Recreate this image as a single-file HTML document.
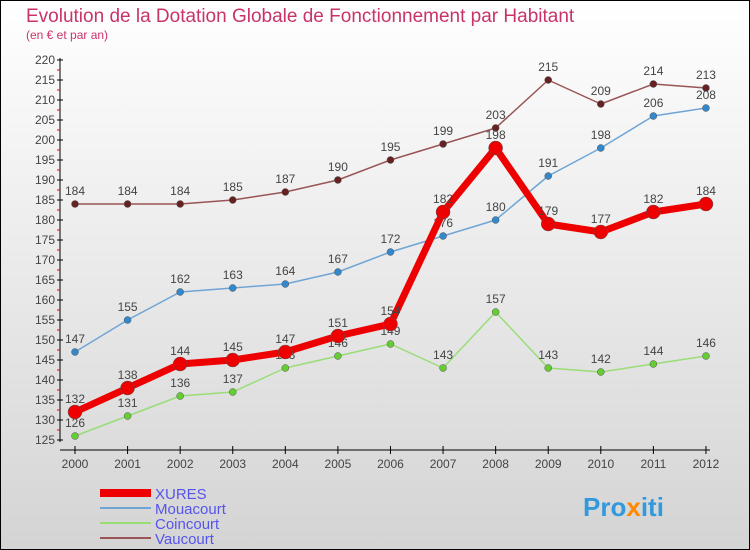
<!DOCTYPE html>
<html><head><meta charset="utf-8"><style>
body{margin:0;width:750px;height:550px;overflow:hidden}
svg{display:block;font-family:"Liberation Sans",sans-serif}
</style></head><body>
<svg width="750" height="550">
<defs><linearGradient id="bg" x1="0" y1="0" x2="0" y2="1"><stop offset="0" stop-color="#ffffff"/><stop offset="1" stop-color="#d4d4d4"/></linearGradient></defs>
<rect x="0.5" y="0.5" width="749" height="549" fill="url(#bg)" stroke="#000"/>
<text x="26" y="22" font-size="19" fill="#c8336a">Evolution de la Dotation Globale de Fonctionnement par Habitant</text>
<text x="26" y="39" font-size="12" fill="#c8336a">(en € et par an)</text>
<g id="axes"></g><g id="series"></g><g id="legend"></g>
<text x="583" y="516" font-size="26" font-weight="bold" fill="#3399dd">Pro<tspan fill="#ff8800">x</tspan>iti</text>
</svg>
<script>
const years=["2000","2001","2002","2003","2004","2005","2006","2007","2008","2009","2010","2011","2012"];
const yTicks=[125,130,135,140,145,150,155,160,165,170,175,180,185,190,195,200,205,210,215,220];
const xures=[132,138,144,145,147,151,154,182,198,179,177,182,184];
const mouacourt=[147,155,162,163,164,167,172,176,180,191,198,206,208];
const coincourt=[126,131,136,137,143,146,149,143,157,143,142,144,146];
const vaucourt=[184,184,184,185,187,190,195,199,203,215,209,214,213];
const NS="http://www.w3.org/2000/svg";
const x=i=>75+i*52.58, y=v=>440-(v-125)*4;
function mk(p,t,a){const e=document.createElementNS(NS,t);for(const k in a)e.setAttribute(k,a[k]);p.appendChild(e);return e;}
const ax=document.getElementById('axes');
let l=mk(ax,'line',{x1:60,y1:58,x2:60,y2:442,stroke:'#000'});


l=mk(ax,'line',{x1:60,y1:450,x2:710,y2:450,stroke:'#000'});


yTicks.forEach(v=>{mk(ax,'line',{x1:57,y1:y(v),x2:63,y2:y(v),stroke:'#000'});
 if(v<220)mk(ax,'line',{x1:57,y1:y(v+2.5),x2:60,y2:y(v+2.5),stroke:'#e00'});
 const t=mk(ax,'text',{x:55,y:y(v)+4,'font-size':12,fill:'#444','text-anchor':'end'});t.textContent=v;
 
 });
years.forEach((yr,i)=>{mk(ax,'line',{x1:x(i),y1:446,x2:x(i),y2:454,stroke:'#000'});
 const t=mk(ax,'text',{x:x(i),y:468,'font-size':12,fill:'#444','text-anchor':'middle'});t.textContent=yr;
 
 });
const S=document.getElementById('series');
function draw(name,data,col,dot,w,r,fs){
 const g=mk(S,'g',{});
 
 
 mk(g,'polyline',{points:data.map((v,i)=>x(i)+','+y(v)).join(' '),fill:'none',stroke:col,'stroke-width':w,'stroke-linejoin':'round'});
 data.forEach((v,i)=>{const c=mk(g,'circle',{cx:x(i),cy:y(v),r:r,fill:dot,stroke:'#555','stroke-width':0.5});
  
  
  const t=mk(g,'text',{x:x(i),y:y(v)-9,'font-size':fs,fill:'#444','text-anchor':'middle'});t.textContent=v;
  
  });
}
draw('vaucourt',vaucourt,'#995555','#662222',1.5,3.5,12);
draw('mouacourt',mouacourt,'#6fa5d5','#3388cc',1.5,3.5,12);
draw('coincourt',coincourt,'#99dd77','#66cc33',1.5,3.5,12);
draw('xures',xures,'#ee0000','#ee0000',7,7,12);
const L=document.getElementById('legend');
[['XURES','#ee0000',8],['Mouacourt','#6fa5d5',2],['Coincourt','#99dd77',2],['Vaucourt','#995555',2]].forEach((d,i)=>{
 const g=mk(L,'g',{});
 
 
 mk(g,'line',{x1:100,y1:493+i*15,x2:151,y2:493+i*15,stroke:d[1],'stroke-width':d[2]});
 const t=mk(g,'text',{x:155,y:499+i*15,'font-size':15,fill:'#5555ee'});t.textContent=d[0];});
</script>
</body></html>
